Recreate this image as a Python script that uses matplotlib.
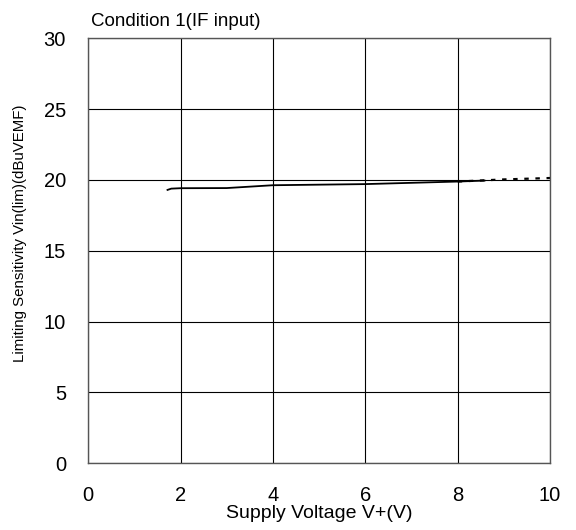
import matplotlib
matplotlib.use("Agg")
import matplotlib.pyplot as plt

plt.rcParams['font.family'] = ['Liberation Sans', 'DejaVu Sans']

# Data
solid_v = [1.7, 1.8, 2.0, 3.0, 4.0, 6.0, 8.0, 8.6]
solid_s = [19.27, 19.38, 19.41, 19.42, 19.62, 19.70, 19.88, 19.95]
dash_v = [8.0, 9.0, 10.0]
dash_s = [19.88, 20.03, 20.13]
xticks = [0, 2, 4, 6, 8, 10]
yticks = [0, 5, 10, 15, 20, 25, 30]

fig = plt.figure(figsize=(5.76, 5.30), dpi=100)
ax = fig.add_axes([0.153, 0.126, 0.802, 0.802])

ax.plot(solid_v, solid_s, color='black', lw=1.3, solid_capstyle='butt')
ax.plot(dash_v, dash_s, color='black', lw=1.6, linestyle=(0, (2, 3)))

ax.set_xlim(0, 10)
ax.set_ylim(0, 30)
ax.set_xticks(xticks)
ax.set_yticks(yticks)
ax.grid(True, color='black', lw=0.8)
for s in ax.spines.values():
    s.set_color('#555555')
    s.set_linewidth(1.0)
ax.tick_params(length=0, labelsize=14.5)
ax.tick_params(axis='y', pad=16)
ax.tick_params(axis='x', pad=16.5)

ax.set_xlabel('Supply Voltage V+(V)', fontsize=14)
ax.xaxis.set_label_coords(0.5, -0.099)
ax.set_ylabel('Limiting Sensitivity Vin(lim)(dBuVEMF)', fontsize=10.8)
ax.yaxis.set_label_coords(-0.147, 0.541)
ax.yaxis.label.set_va('center')
ax.text(0.006, 1.02, 'Condition 1(IF input)', transform=ax.transAxes,
        fontsize=13.5, ha='left', va='bottom')

fig.savefig('out.png', dpi=100)
